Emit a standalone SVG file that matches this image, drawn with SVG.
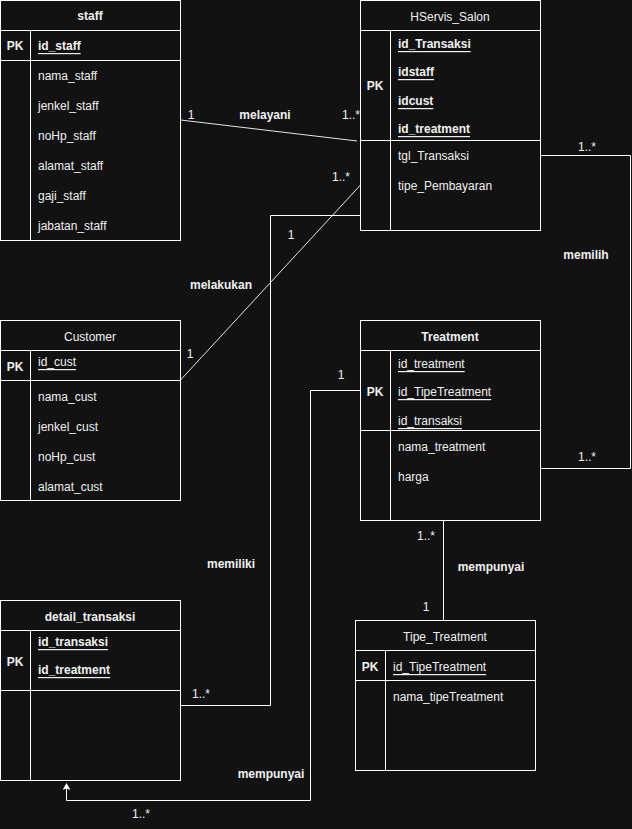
<svg xmlns="http://www.w3.org/2000/svg" width="632" height="829" viewBox="0 0 632 829">
  <style>
    text { font-family: "Liberation Sans", Arial, sans-serif; font-size: 12px; fill: #f0f0f0; dominant-baseline: central; transform: translateY(1px); }
    .hd { text-anchor: middle; }
    .b { font-weight: bold; }
    .pk { font-weight: bold; text-anchor: middle; }
    .key { text-decoration: underline; }
    .box { fill: #121212; stroke: #ffffff; stroke-width: 1; }
    .ln { fill: none; stroke: #ffffff; stroke-width: 1; }
    .conn { fill: none; stroke: #e6e6e6; stroke-width: 1; }
    .rel { font-weight: bold; text-anchor: middle; }
    .card { text-anchor: middle; }
  </style>
  <defs>
    <marker id="arrow" markerWidth="8" markerHeight="8" refX="4" refY="1" orient="0" markerUnits="userSpaceOnUse">
      <path d="M0,7 L4,0 L8,7 L4,5.5 Z" fill="#ffffff"/>
    </marker>
  </defs>
  <rect x="0" y="0" width="632" height="829" fill="#121212"/>

  <!-- connectors -->
  <g id="connectors">
    <line class="conn" x1="180.5" y1="120" x2="357" y2="141"/>
    <line class="conn" x1="180.5" y1="380" x2="360.5" y2="185"/>
    <polyline class="ln" points="360.5,215.5 270.5,215.5 270.5,705.5 180.5,705.5"/>
    <polyline class="ln" points="540.5,155.5 630.5,155.5 630.5,468.5 540.5,468.5"/>
    <line class="ln" x1="443.5" y1="520.5" x2="443.5" y2="620.5"/>
    <polyline class="ln" points="360.5,390.5 310.5,390.5 310.5,800.5 66.5,800.5 66.5,784" marker-end="url(#arrow)"/>

    <text class="card" x="191" y="114">1</text>
    <text class="rel" x="265" y="114">melayani</text>
    <text class="card" x="351" y="114">1..*</text>

    <text class="card" x="190" y="353">1</text>
    <text class="card" x="341" y="176">1..*</text>
    <text class="rel" x="221" y="284">melakukan</text>

    <text class="card" x="291" y="234">1</text>
    <text class="rel" x="231" y="563">memiliki</text>
    <text class="card" x="201" y="693">1..*</text>

    <text class="card" x="587" y="146">1..*</text>
    <text class="rel" x="586" y="254">memilih</text>
    <text class="card" x="587" y="456">1..*</text>

    <text class="card" x="426" y="535">1..*</text>
    <text class="rel" x="491" y="566">mempunyai</text>
    <text class="card" x="426" y="606">1</text>

    <text class="card" x="341" y="374">1</text>
    <text class="rel" x="271" y="773">mempunyai</text>
    <text class="card" x="141" y="813">1..*</text>
  </g>

  <!-- staff -->
  <g id="staff">
    <rect class="box" x="0.5" y="0.5" width="180" height="240"/>
    <line class="ln" x1="0.5" y1="30.5" x2="180.5" y2="30.5"/>
    <line class="ln" x1="0.5" y1="60.5" x2="180.5" y2="60.5"/>
    <line class="ln" x1="30.5" y1="30.5" x2="30.5" y2="240.5"/>
    <text class="hd b" x="90" y="15">staff</text>
    <text class="pk" x="15" y="45">PK</text>
    <text class="b key" x="38" y="45">id_staff</text>
    <text x="38" y="75">nama_staff</text>
    <text x="38" y="105">jenkel_staff</text>
    <text x="38" y="135">noHp_staff</text>
    <text x="38" y="165">alamat_staff</text>
    <text x="38" y="195">gaji_staff</text>
    <text x="38" y="225">jabatan_staff</text>
  </g>

  <!-- HServis_Salon -->
  <g id="hservis_salon">
    <rect class="box" x="360.5" y="0.5" width="180" height="230"/>
    <line class="ln" x1="360.5" y1="30.5" x2="540.5" y2="30.5"/>
    <line class="ln" x1="360.5" y1="140.5" x2="540.5" y2="140.5"/>
    <line class="ln" x1="390.5" y1="30.5" x2="390.5" y2="230.5"/>
    <text class="hd" x="450" y="16">HServis_Salon</text>
    <text class="pk" x="375" y="85">PK</text>
    <text class="b key" x="398" y="43">id_Transaksi</text>
    <text class="b key" x="398" y="71">idstaff</text>
    <text class="b key" x="398" y="100">idcust</text>
    <text class="b key" x="398" y="128">id_treatment</text>
    <text x="398" y="155">tgl_Transaksi</text>
    <text x="398" y="185">tipe_Pembayaran</text>
  </g>

  <!-- Customer -->
  <g id="customer">
    <rect class="box" x="0.5" y="320.5" width="180" height="180"/>
    <line class="ln" x1="0.5" y1="350.5" x2="180.5" y2="350.5"/>
    <line class="ln" x1="0.5" y1="380.5" x2="180.5" y2="380.5"/>
    <line class="ln" x1="30.5" y1="350.5" x2="30.5" y2="500.5"/>
    <text class="hd" x="90" y="336">Customer</text>
    <text class="pk" x="15" y="366">PK</text>
    <text class="key" x="38" y="361">id_cust</text>
    <text x="38" y="396">nama_cust</text>
    <text x="38" y="426">jenkel_cust</text>
    <text x="38" y="456">noHp_cust</text>
    <text x="38" y="486">alamat_cust</text>
  </g>

  <!-- Treatment -->
  <g id="treatment">
    <rect class="box" x="360.5" y="320.5" width="180" height="200"/>
    <line class="ln" x1="360.5" y1="350.5" x2="540.5" y2="350.5"/>
    <line class="ln" x1="360.5" y1="430.5" x2="540.5" y2="430.5"/>
    <line class="ln" x1="390.5" y1="350.5" x2="390.5" y2="520.5"/>
    <text class="hd b" x="450" y="336">Treatment</text>
    <text class="pk" x="375" y="391">PK</text>
    <text class="key" x="398" y="363">id_treatment</text>
    <text class="key" x="398" y="391">id_TipeTreatment</text>
    <text class="key" x="398" y="420">id_transaksi</text>
    <text x="398" y="446">nama_treatment</text>
    <text x="398" y="476">harga</text>
  </g>

  <!-- detail_transaksi -->
  <g id="detail_transaksi">
    <rect class="box" x="0.5" y="600.5" width="180" height="180"/>
    <line class="ln" x1="0.5" y1="630.5" x2="180.5" y2="630.5"/>
    <line class="ln" x1="0.5" y1="690.5" x2="180.5" y2="690.5"/>
    <line class="ln" x1="30.5" y1="630.5" x2="30.5" y2="780.5"/>
    <text class="hd b" x="90" y="616">detail_transaksi</text>
    <text class="pk" x="15" y="661">PK</text>
    <text class="b key" x="38" y="641">id_transaksi</text>
    <text class="b key" x="38" y="669">id_treatment</text>
  </g>

  <!-- Tipe_Treatment -->
  <g id="tipe_treatment">
    <rect class="box" x="355.5" y="620.5" width="180" height="150"/>
    <line class="ln" x1="355.5" y1="650.5" x2="535.5" y2="650.5"/>
    <line class="ln" x1="355.5" y1="680.5" x2="535.5" y2="680.5"/>
    <line class="ln" x1="385.5" y1="650.5" x2="385.5" y2="770.5"/>
    <text class="hd" x="445" y="636">Tipe_Treatment</text>
    <text class="pk" x="370" y="666">PK</text>
    <text class="key" x="393" y="666">id_TipeTreatment</text>
    <text x="393" y="696">nama_tipeTreatment</text>
  </g>
</svg>
